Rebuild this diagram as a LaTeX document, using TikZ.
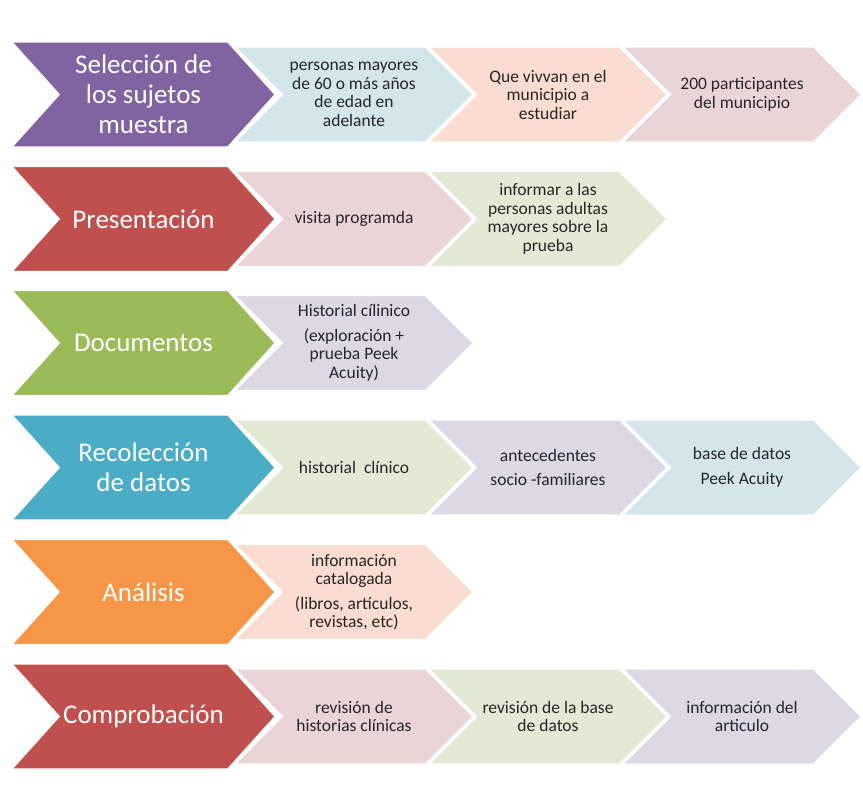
\documentclass[tikz,border=0pt]{standalone}
\usepackage{fontspec}
\setmainfont{Carlito}
\usetikzlibrary{shapes.symbols}
\definecolor{purpleM}{HTML}{8064A2}
\definecolor{redM}{HTML}{C0504D}
\definecolor{greenM}{HTML}{9BBB59}
\definecolor{blueM}{HTML}{4BACC6}
\definecolor{orangeM}{HTML}{F79646}
\definecolor{tintBlue}{RGB}{212,229,235}
\definecolor{tintPeach}{RGB}{250,221,208}
\definecolor{tintPink}{RGB}{234,213,214}
\definecolor{tintGreen}{RGB}{226,234,214}
\definecolor{tintLav}{RGB}{221,216,230}
\tikzset{
  chev/.style={signal, signal from=west, signal to=east, draw=white, line width=1.2pt, inner sep=0pt, align=center},
  mainstep/.style={chev, signal pointer angle=96, minimum width=263pt, minimum height=105pt, text=white, font=\fontsize{27}{30}\selectfont},
  substep/.style={chev, signal pointer angle=90, minimum width=238pt, minimum height=95pt, text=black!85, font=\fontsize{17.5}{18.5}\selectfont},
}

\begin{document}
\begin{tikzpicture}[x=1pt,y=-1pt]
    \useasboundingbox (0,0) rectangle (863,812);

    % --- Selección ---
    \node[mainstep, fill=purpleM] (sel) at (143.5,94.5) {Selección de\\los sujetos\\muestra};
    \node[substep, fill=tintBlue] (selA) at (354,94.5) {personas mayores\\de 60 o más años\\de edad en\\adelante};
    \node[substep, fill=tintPeach] (selB) at (548,94.5) {Que vivvan en el\\municipio a\\estudiar};
    \node[substep, fill=tintPink] (selC) at (742,94.5) {200 participantes\\del municipio};

    % --- Presentación ---
    \node[mainstep, fill=redM] (pres) at (143.5,219) {Presentación};
    \node[substep, fill=tintPink] (presA) at (354,219) {visita programda};
    \node[substep, fill=tintGreen] (presB) at (548,219) {informar a las\\personas adultas\\mayores sobre la\\prueba};

    % --- Documentos ---
    \node[mainstep, fill=greenM] (doc) at (143.5,343) {Documentos};
    \node[substep, fill=tintLav] (docA) at (354,343) {Historial cílinico\\[6pt](exploración +\\prueba Peek\\Acuity)};

    % --- Recolección ---
    \node[mainstep, fill=blueM] (rec) at (143.5,467.5) {Recolección\\de datos};
    \node[substep, fill=tintGreen] (recA) at (354,467.5) {historial\ \ clínico};
    \node[substep, fill=tintLav] (recB) at (548,467.5) {antecedentes\\[6pt]socio -familiares};
    \node[substep, fill=tintBlue] (recC) at (742,467.5) {base de datos\\[6pt]Peek Acuity};

    % --- Análisis ---
    \node[mainstep, fill=orangeM] (ana) at (143.5,592) {Análisis};
    \node[substep, fill=tintPeach] (anaA) at (354,592) {información\\catalogada\\[6pt](libros, artículos,\\revistas, etc)};

    % --- Comprobación ---
    \node[mainstep, fill=redM] (comp) at (143.5,716.5) {Comprobación};
    \node[substep, fill=tintPink] (compA) at (354,716.5) {revisión de\\historias clínicas};
    \node[substep, fill=tintGreen] (compB) at (548,716.5) {revisión de la base\\de datos};
    \node[substep, fill=tintLav] (compC) at (742,716.5) {información del\\articulo};
\end{tikzpicture}
\end{document}
